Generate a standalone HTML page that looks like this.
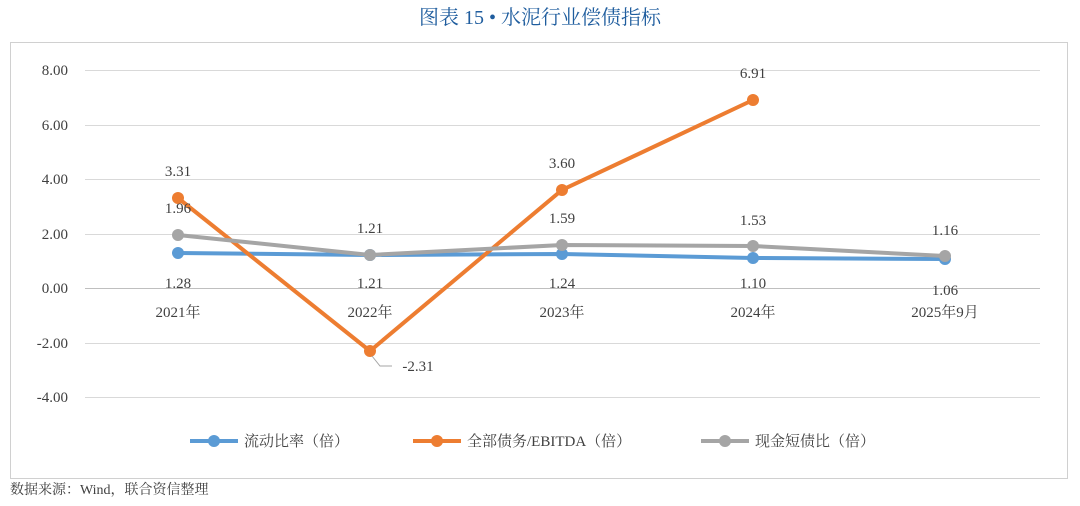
<!DOCTYPE html>
<html><head><meta charset="utf-8"><style>
body{margin:0;background:#fff;width:1080px;height:501px;overflow:hidden;font-family:"Liberation Serif","Noto Serif CJK SC",serif;}
</style></head><body>
<svg width="1080" height="501" xmlns="http://www.w3.org/2000/svg" font-family="Liberation Serif, Noto Serif CJK SC, serif">
<text x="540" y="24" text-anchor="middle" font-size="20" fill="#1f5d9e">图表 15 •  水泥行业偿债指标</text>
<rect x="10.5" y="42.5" width="1057" height="436" fill="none" stroke="#d0d0d0"/>
<g stroke="#d9d9d9" stroke-width="1">
<line x1="85" x2="1040" y1="70.5" y2="70.5"/><line x1="85" x2="1040" y1="125.5" y2="125.5"/>
<line x1="85" x2="1040" y1="179.5" y2="179.5"/><line x1="85" x2="1040" y1="234.5" y2="234.5"/>
<line x1="85" x2="1040" y1="343.5" y2="343.5"/><line x1="85" x2="1040" y1="397.5" y2="397.5"/>
</g>
<line x1="85" x2="1040" y1="288.5" y2="288.5" stroke="#bfbfbf"/>
<g font-size="15" fill="#404040" text-anchor="end">
<text x="68" y="75">8.00</text><text x="68" y="130">6.00</text><text x="68" y="184">4.00</text>
<text x="68" y="239">2.00</text><text x="68" y="293">0.00</text><text x="68" y="348">-2.00</text><text x="68" y="402">-4.00</text>
</g>
<g font-size="15" fill="#404040" text-anchor="middle">
<text x="178" y="317">2021年</text><text x="370" y="317">2022年</text><text x="562" y="317">2023年</text><text x="753" y="317">2024年</text><text x="945" y="317">2025年9月</text>
</g>
<polyline points="178,253 370,255 562,254 753,258 945,259" fill="none" stroke="#5b9bd5" stroke-width="4"/>
<g fill="#5b9bd5"><circle cx="178" cy="253" r="6"/><circle cx="370" cy="255" r="6"/><circle cx="562" cy="254" r="6"/><circle cx="753" cy="258" r="6"/><circle cx="945" cy="259" r="6"/></g>
<polyline points="178,198 370,351 562,190 753,100" fill="none" stroke="#ed7d31" stroke-width="4"/>
<g fill="#ed7d31"><circle cx="178" cy="198" r="6"/><circle cx="370" cy="351" r="6"/><circle cx="562" cy="190" r="6"/><circle cx="753" cy="100" r="6"/></g>
<polyline points="178,235 370,255 562,245 753,246 945,256" fill="none" stroke="#a5a5a5" stroke-width="4"/>
<g fill="#a5a5a5"><circle cx="178" cy="235" r="6"/><circle cx="370" cy="255" r="6"/><circle cx="562" cy="245" r="6"/><circle cx="753" cy="246" r="6"/><circle cx="945" cy="256" r="6"/></g>
<polyline points="372,356 380,366 392,366" fill="none" stroke="#a5a5a5"/>
<g font-size="15" fill="#404040" text-anchor="middle">
<text x="178" y="176">3.31</text><text x="562" y="168">3.60</text><text x="753" y="78">6.91</text><text x="418" y="371">-2.31</text>
<text x="178" y="213">1.96</text><text x="370" y="233">1.21</text><text x="562" y="223">1.59</text><text x="753" y="225">1.53</text><text x="945" y="235">1.16</text>
<text x="178" y="288">1.28</text><text x="370" y="288">1.21</text><text x="562" y="288">1.24</text><text x="753" y="288">1.10</text><text x="945" y="295">1.06</text>
</g>
<g font-size="15" fill="#404040">
<line x1="190" x2="238" y1="441" y2="441" stroke="#5b9bd5" stroke-width="4"/><circle cx="214" cy="441" r="6" fill="#5b9bd5"/>
<text x="244" y="446">流动比率（倍）</text>
<line x1="413" x2="461" y1="441" y2="441" stroke="#ed7d31" stroke-width="4"/><circle cx="437" cy="441" r="6" fill="#ed7d31"/>
<text x="467" y="446">全部债务/EBITDA（倍）</text>
<line x1="701" x2="749" y1="441" y2="441" stroke="#a5a5a5" stroke-width="4"/><circle cx="725" cy="441" r="6" fill="#a5a5a5"/>
<text x="755" y="446">现金短债比（倍）</text>
</g>
<text x="10" y="494" font-size="14" fill="#404040">数据来源：Wind，联合资信整理</text>
</svg>
</body></html>
